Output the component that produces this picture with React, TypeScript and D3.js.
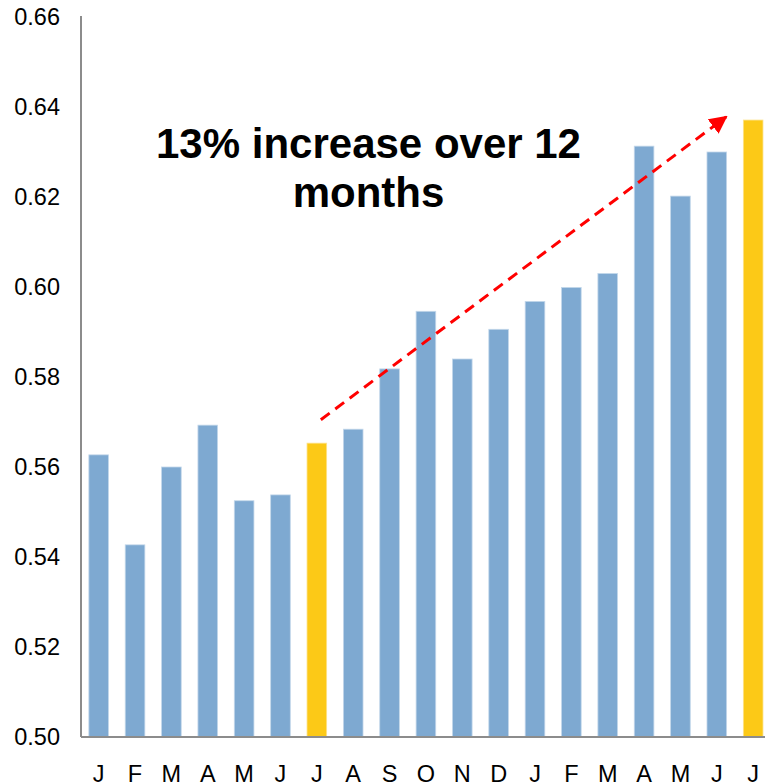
import React from "react";
import * as d3 from "d3";

// Monthly values, two consecutive years plus the following January... July
const months = ["J", "F", "M", "A", "M", "J", "J", "A", "S", "O", "N", "D", "J", "F", "M", "A", "M", "J", "J"];
const values = [0.5627, 0.5427, 0.56, 0.5693, 0.5525, 0.5538, 0.5653, 0.5684, 0.5818, 0.5946, 0.584, 0.5906, 0.5968, 0.5999, 0.603, 0.6313, 0.6202, 0.63, 0.6371];
const highlighted = [6, 18];
const yTicks = [0.5, 0.52, 0.54, 0.56, 0.58, 0.6, 0.62, 0.64, 0.66];
const titleLines = ["13% increase over 12", "months"];

// Trend arrow endpoints in data terms: [bar index offset, value]
const arrowFrom = { index: 6, dx: 4, value: 0.5705 };
const arrowTo = { index: 18, dx: -27, value: 0.6378 };

const W = 765;
const H = 784;
const left = 81;
const top = 17;
const bottom = 737;

export default function App() {
  const x = d3
    .scaleBand<number>()
    .domain(d3.range(months.length))
    .range([80.5, 80.5 + 19 * 36.36])
    .paddingInner(0.46)
    .paddingOuter(0.23);
  const y = d3.scaleLinear().domain([0.5, 0.66]).range([bottom, top]);
  const bw = x.bandwidth();
  const cx = (i: number) => (x(i) as number) + bw / 2;

  const fontFamily = "'Liberation Sans', Arial, sans-serif";

  const x1 = cx(arrowFrom.index) + arrowFrom.dx;
  const y1 = y(arrowFrom.value);
  const x2 = cx(arrowTo.index) + arrowTo.dx;
  const y2 = y(arrowTo.value);

  return (
    <svg
      width={W}
      height={H}
      style={{ position: "absolute", left: 0, top: 0, background: "#fff" }}
      fontFamily={fontFamily}
    >
      <defs>
        <marker
          id="arrowHead"
          viewBox="0 0 10 10"
          refX="9"
          refY="5"
          markerWidth="6"
          markerHeight="6"
          markerUnits="strokeWidth"
          orient="auto"
        >
          <path d="M0,0 L10,5 L0,10 z" fill="#ff0000" />
        </marker>
      </defs>

      {/* bars */}
      {values.map((v, i) => (
        <rect
          key={i}
          x={x(i)}
          y={y(v)}
          width={bw}
          height={bottom - y(v)}
          fill={highlighted.includes(i) ? "#fcc917" : "#7ea9d1"}
          stroke={highlighted.includes(i) ? "#fde28a" : "#c3d7ea"}
          strokeWidth={0.8}
        />
      ))}

      {/* axes */}
      <line x1={left} x2={left} y1={16} y2={bottom} stroke="#8c8c8c" strokeWidth={2} />
      <line x1={left} x2={W} y1={bottom} y2={bottom} stroke="#8c8c8c" strokeWidth={2} />

      {/* y tick labels */}
      {yTicks.map((t) => (
        <text
          key={t}
          x={60}
          y={y(t)}
          dy="0.35em"
          textAnchor="end"
          fontSize={23.5}
          fill="#000"
        >
          {d3.format(".2f")(t)}
        </text>
      ))}

      {/* month labels */}
      {months.map((m, i) => (
        <text key={i} x={cx(i)} y={782} textAnchor="middle" fontSize={23.5} fill="#000">
          {m}
        </text>
      ))}

      {/* trend arrow */}
      <line
        x1={x1}
        y1={y1}
        x2={x2}
        y2={y2}
        stroke="#ff0000"
        strokeWidth={3}
        strokeDasharray="11 7"
        markerEnd="url(#arrowHead)"
      />

      {/* annotation */}
      {titleLines.map((line, i) => (
        <text
          key={i}
          x={368.5}
          y={158 + i * 49}
          textAnchor="middle"
          fontSize={42}
          fontWeight="bold"
          fill="#000"
        >
          {line}
        </text>
      ))}
    </svg>
  );
}
